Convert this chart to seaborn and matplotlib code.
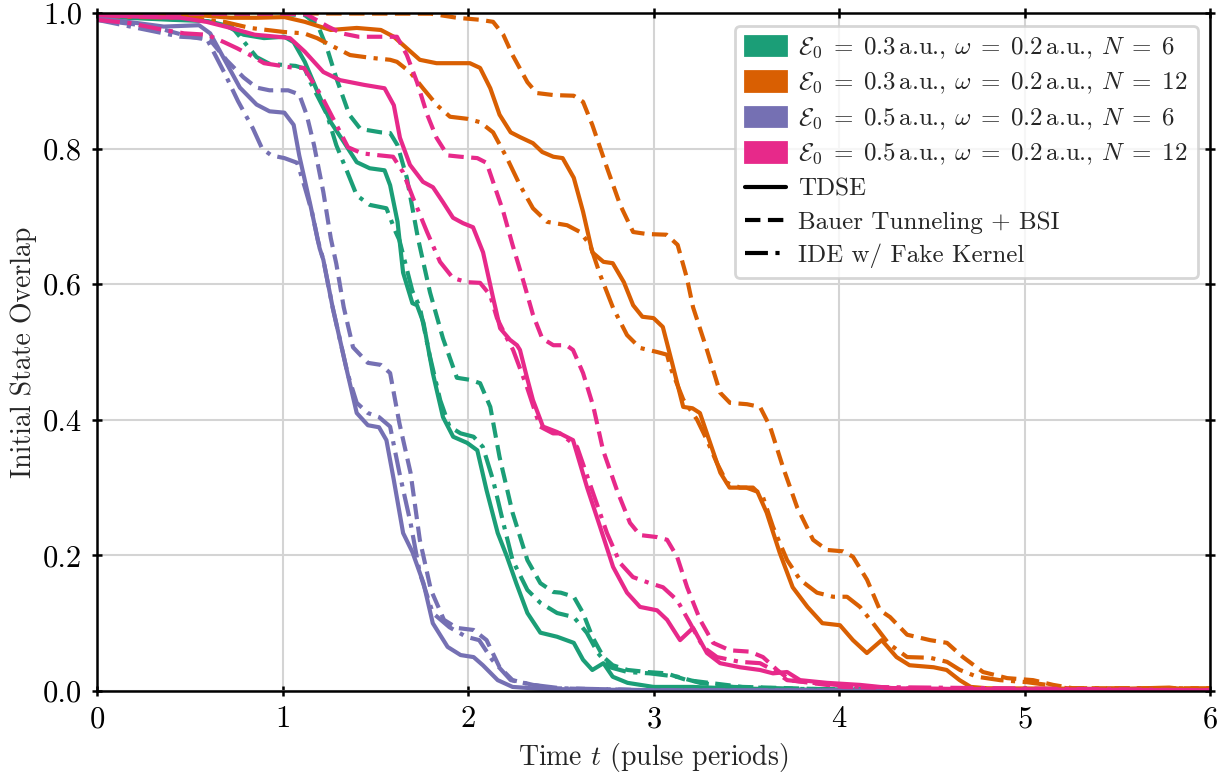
import numpy as np
import pandas as pd
import matplotlib
matplotlib.use("Agg")
import matplotlib.pyplot as plt
import seaborn as sns
from matplotlib.patches import Patch
from matplotlib.lines import Line2D

# ---------------- data ----------------
# E0 = 0.3, N = 6 (green)
g_tdse_t = [0, 0.4, 0.6, 0.69, 0.79, 0.90, 1.01, 1.06, 1.12, 1.19, 1.26, 1.33, 1.40, 1.47, 1.55, 1.58, 1.62,
            1.65, 1.70, 1.725, 1.76, 1.81, 1.865, 1.92, 1.995, 2.05, 2.10, 2.16, 2.21, 2.26, 2.32, 2.39, 2.48,
            2.57, 2.62, 2.67, 2.73, 2.78, 2.86, 3.0, 3.21, 3.4, 3.8, 6.0]
g_tdse_y = [0.995, 0.99, 0.988, 0.982, 0.968, 0.963, 0.965, 0.957, 0.928, 0.883, 0.839, 0.81, 0.78, 0.771, 0.768,
            0.746, 0.692, 0.617, 0.572, 0.569, 0.543, 0.469, 0.404, 0.375, 0.366, 0.355, 0.296, 0.233, 0.198,
            0.159, 0.115, 0.086, 0.08, 0.071, 0.046, 0.031, 0.041, 0.021, 0.012, 0.006, 0.006, 0.004, 0.002, 0.0]
g_bauer_t = [0, 1.0, 1.12, 1.19, 1.24, 1.29, 1.36, 1.42, 1.53, 1.58, 1.62, 1.67, 1.73, 1.795, 1.865, 1.94, 2.01,
             2.065, 2.12, 2.17, 2.24, 2.32, 2.39, 2.46, 2.50, 2.57, 2.62, 2.67, 2.73, 2.78, 2.86, 2.965, 3.07,
             3.18, 3.30, 3.48, 3.75, 4.0, 6.0]
g_bauer_y = [0.998, 0.998, 0.997, 0.982, 0.948, 0.904, 0.85, 0.829, 0.824, 0.823, 0.805, 0.757, 0.668, 0.588,
             0.52, 0.462, 0.459, 0.454, 0.419, 0.345, 0.263, 0.193, 0.159, 0.146, 0.145, 0.139, 0.115, 0.08, 0.05,
             0.038, 0.031, 0.028, 0.026, 0.016, 0.012, 0.006, 0.004, 0.002, 0.0]
g_ide_t = [0, 0.55, 0.71, 0.80, 0.86, 0.93, 1.07, 1.12, 1.15, 1.24, 1.29, 1.35, 1.40, 1.47, 1.56, 1.61, 1.63,
           1.70, 1.74, 1.795, 1.85, 1.90, 1.96, 2.03, 2.08, 2.135, 2.19, 2.24, 2.32, 2.39, 2.48, 2.57, 2.64,
           2.70, 2.765, 2.86, 2.98, 3.13, 3.25, 3.43, 3.8, 6.0]
g_ide_y = [0.995, 0.99, 0.985, 0.955, 0.935, 0.925, 0.922, 0.918, 0.898, 0.85, 0.805, 0.765, 0.731, 0.717,
           0.712, 0.677, 0.665, 0.59, 0.566, 0.493, 0.429, 0.39, 0.38, 0.375, 0.36, 0.311, 0.248, 0.193, 0.149,
           0.13, 0.115, 0.109, 0.086, 0.056, 0.035, 0.028, 0.026, 0.021, 0.012, 0.006, 0.003, 0.0]

# E0 = 0.3, N = 12 (orange)
o_tdse_t = [0, 0.54, 0.72, 0.86, 1.01, 1.12, 1.26, 1.40, 1.53, 1.60, 1.67, 1.74, 1.83, 1.94, 2.01, 2.065, 2.12,
            2.17, 2.23, 2.28, 2.35, 2.40, 2.46, 2.51, 2.57, 2.62, 2.67, 2.73, 2.78, 2.84, 2.89, 2.94, 3.0, 3.05,
            3.10, 3.16, 3.21, 3.25, 3.305, 3.36, 3.41, 3.50, 3.56, 3.61, 3.68, 3.75, 3.83, 3.91, 4.005, 4.075,
            4.15, 4.23, 4.31, 4.38, 4.51, 4.58, 4.65, 4.71, 4.80, 5.5, 5.78, 5.85, 6.0]
o_tdse_y = [0.997, 0.997, 0.993, 0.993, 0.994, 0.987, 0.975, 0.978, 0.975, 0.965, 0.948, 0.931, 0.926, 0.926,
            0.926, 0.919, 0.889, 0.85, 0.824, 0.817, 0.808, 0.795, 0.788, 0.786, 0.757, 0.707, 0.647, 0.633,
            0.631, 0.603, 0.569, 0.552, 0.55, 0.537, 0.484, 0.419, 0.417, 0.41, 0.366, 0.322, 0.30, 0.30, 0.294,
            0.263, 0.204, 0.153, 0.124, 0.10, 0.097, 0.075, 0.056, 0.075, 0.05, 0.038, 0.035, 0.031, 0.016,
            0.006, 0.004, 0.003, 0.005, 0.003, 0.003]
o_bauer_t = [0, 1.8, 1.94, 2.065, 2.135, 2.19, 2.24, 2.32, 2.37, 2.46, 2.57, 2.62, 2.67, 2.75, 2.82, 2.89, 2.965,
             3.07, 3.13, 3.18, 3.213, 3.288, 3.359, 3.412, 3.504, 3.574, 3.628, 3.698, 3.774, 3.86, 3.935, 4.022,
             4.075, 4.151, 4.221, 4.275, 4.367, 4.491, 4.582, 4.668, 4.776, 4.906, 5.046, 5.154, 5.261, 6.0]
o_bauer_y = [1.0, 0.999, 0.993, 0.99, 0.987, 0.968, 0.938, 0.898, 0.882, 0.879, 0.878, 0.869, 0.835, 0.771, 0.717,
             0.677, 0.674, 0.673, 0.658, 0.609, 0.566, 0.503, 0.44, 0.425, 0.423, 0.419, 0.39, 0.33, 0.271, 0.223,
             0.208, 0.206, 0.198, 0.164, 0.119, 0.109, 0.083, 0.075, 0.071, 0.05, 0.028, 0.019, 0.016, 0.009,
             0.004, 0.004]
o_ide_t = [0, 0.5, 0.685, 0.825, 1.008, 1.116, 1.186, 1.256, 1.364, 1.472, 1.58, 1.617, 1.687, 1.757, 1.833,
           1.903, 1.995, 2.065, 2.135, 2.21, 2.28, 2.35, 2.426, 2.534, 2.604, 2.658, 2.712, 2.782, 2.857, 2.927,
           3.019, 3.073, 3.09, 3.16, 3.235, 3.288, 3.342, 3.396, 3.466, 3.536, 3.59, 3.644, 3.72, 3.79, 3.881,
           3.968, 4.043, 4.113, 4.183, 4.267, 4.367, 4.491, 4.582, 4.652, 4.744, 4.868, 5.013, 5.121, 5.229, 6.0]
o_ide_y = [0.995, 0.993, 0.987, 0.978, 0.972, 0.97, 0.963, 0.953, 0.938, 0.934, 0.931, 0.928, 0.913, 0.889,
           0.864, 0.847, 0.844, 0.839, 0.824, 0.786, 0.746, 0.712, 0.692, 0.687, 0.677, 0.658, 0.614, 0.565,
           0.525, 0.506, 0.50, 0.496, 0.478, 0.43, 0.40, 0.37, 0.336, 0.307, 0.30, 0.30, 0.286, 0.242, 0.193,
           0.164, 0.145, 0.139, 0.139, 0.124, 0.10, 0.07, 0.05, 0.049, 0.043, 0.031, 0.021, 0.016, 0.013,
           0.009, 0.004, 0.004]

# E0 = 0.5, N = 6 (purple)
p_tdse_t = [0, 0.36, 0.55, 0.61, 0.69, 0.77, 0.86, 0.93, 1.01, 1.06, 1.09, 1.15, 1.20, 1.22, 1.27, 1.35, 1.40,
            1.46, 1.52, 1.56, 1.60, 1.65, 1.70, 1.76, 1.81, 1.89, 1.96, 2.03, 2.08, 2.16, 2.24, 2.4, 3.0, 6.0]
p_tdse_y = [0.993, 0.98, 0.982, 0.97, 0.93, 0.89, 0.865, 0.855, 0.853, 0.835, 0.79, 0.717, 0.653, 0.636, 0.566,
            0.469, 0.41, 0.392, 0.389, 0.37, 0.311, 0.233, 0.205, 0.159, 0.10, 0.065, 0.053, 0.05, 0.038, 0.016,
            0.006, 0.003, 0.001, 0.0]
p_bauer_t = [0, 0.3, 0.5, 0.61, 0.70, 0.79, 0.86, 0.93, 1.03, 1.09, 1.13, 1.17, 1.22, 1.26, 1.29, 1.33, 1.38,
             1.46, 1.53, 1.58, 1.63, 1.69, 1.74, 1.80, 1.87, 1.94, 2.03, 2.10, 2.17, 2.24, 2.35, 2.46, 3.0, 6.0]
p_bauer_y = [0.99, 0.98, 0.965, 0.96, 0.93, 0.905, 0.89, 0.886, 0.886, 0.88, 0.85, 0.805, 0.736, 0.668, 0.63,
             0.566, 0.507, 0.484, 0.481, 0.469, 0.395, 0.322, 0.223, 0.149, 0.105, 0.093, 0.09, 0.075, 0.035,
             0.016, 0.009, 0.004, 0.001, 0.0]
p_ide_t = [0, 0.36, 0.45, 0.59, 0.69, 0.76, 0.84, 0.89, 0.94, 1.01, 1.08, 1.12, 1.16, 1.19, 1.22, 1.27, 1.35,
           1.40, 1.46, 1.52, 1.58, 1.63, 1.69, 1.74, 1.81, 1.90, 1.99, 2.06, 2.13, 2.23, 2.35, 2.5, 3.0, 6.0]
p_ide_y = [0.99, 0.97, 0.965, 0.963, 0.91, 0.87, 0.83, 0.80, 0.79, 0.786, 0.779, 0.743, 0.705, 0.665, 0.636,
           0.566, 0.469, 0.425, 0.41, 0.404, 0.39, 0.322, 0.248, 0.174, 0.115, 0.094, 0.08, 0.075, 0.046,
           0.016, 0.009, 0.004, 0.001, 0.0]

# E0 = 0.5, N = 12 (pink)
k_tdse_t = [0, 0.18, 0.45, 0.59, 0.72, 0.85, 0.97, 1.04, 1.12, 1.22, 1.31, 1.44, 1.55, 1.60, 1.633, 1.687, 1.757,
            1.811, 1.865, 1.919, 1.973, 2.027, 2.081, 2.135, 2.173, 2.226, 2.264, 2.28, 2.318, 2.35, 2.404, 2.48,
            2.566, 2.642, 2.712, 2.782, 2.857, 2.927, 3.019, 3.073, 3.143, 3.213, 3.288, 3.359, 3.466, 3.574,
            3.644, 3.72, 3.79, 3.935, 4.113, 4.291, 5.0, 6.0]
k_tdse_y = [0.997, 0.995, 0.993, 0.987, 0.978, 0.968, 0.965, 0.963, 0.943, 0.913, 0.901, 0.894, 0.889, 0.864,
            0.816, 0.776, 0.751, 0.743, 0.721, 0.698, 0.69, 0.684, 0.647, 0.58, 0.535, 0.518, 0.51, 0.503, 0.462,
            0.429, 0.39, 0.382, 0.37, 0.30, 0.242, 0.183, 0.145, 0.124, 0.119, 0.105, 0.075, 0.093, 0.056,
            0.041, 0.035, 0.031, 0.026, 0.028, 0.016, 0.012, 0.009, 0.004, 0.002, 0.001]
k_bauer_t = [0, 1.0, 1.13, 1.245, 1.32, 1.41, 1.617, 1.67, 1.725, 1.78, 1.83, 1.89, 1.96, 2.05, 2.10, 2.135,
             2.19, 2.24, 2.30, 2.35, 2.40, 2.46, 2.53, 2.566, 2.62, 2.675, 2.728, 2.803, 2.873, 2.927, 3.019,
             3.073, 3.127, 3.181, 3.251, 3.321, 3.412, 3.52, 3.59, 3.666, 3.736, 3.844, 4.022, 4.5, 6.0]
k_bauer_y = [0.999, 0.999, 0.998, 0.98, 0.97, 0.965, 0.965, 0.938, 0.898, 0.85, 0.816, 0.79, 0.788, 0.786,
             0.779, 0.751, 0.707, 0.658, 0.603, 0.555, 0.52, 0.51, 0.51, 0.503, 0.469, 0.42, 0.355, 0.296,
             0.248, 0.23, 0.227, 0.223, 0.198, 0.153, 0.105, 0.071, 0.06, 0.058, 0.05, 0.031, 0.016, 0.012,
             0.006, 0.003, 0.001]
k_ide_t = [0, 0.18, 0.36, 0.47, 0.593, 0.685, 0.755, 0.825, 0.90, 1.04, 1.116, 1.213, 1.353, 1.429, 1.526,
           1.596, 1.65, 1.704, 1.779, 1.849, 1.919, 1.995, 2.065, 2.119, 2.156, 2.21, 2.243, 2.318, 2.388, 2.458,
           2.496, 2.588, 2.674, 2.749, 2.819, 2.889, 2.981, 3.051, 3.127, 3.197, 3.267, 3.342, 3.466, 3.574,
           3.644, 3.72, 3.86, 4.113, 6.0]
k_ide_y = [0.99, 0.985, 0.975, 0.97, 0.968, 0.957, 0.948, 0.938, 0.926, 0.92, 0.919, 0.876, 0.802, 0.793,
           0.79, 0.788, 0.765, 0.727, 0.677, 0.633, 0.609, 0.603, 0.602, 0.584, 0.55, 0.52, 0.503, 0.448, 0.39,
           0.38, 0.38, 0.36, 0.292, 0.233, 0.189, 0.168, 0.159, 0.153, 0.134, 0.10, 0.065, 0.05, 0.043, 0.041,
           0.031, 0.016, 0.012, 0.006, 0.001]

param_labels = [
    r"$\mathcal{E}_0\;=\;0.3\,$a.u., $\omega\;=\;0.2\,$a.u., $N\;=\;6$",
    r"$\mathcal{E}_0\;=\;0.3\,$a.u., $\omega\;=\;0.2\,$a.u., $N\;=\;12$",
    r"$\mathcal{E}_0\;=\;0.5\,$a.u., $\omega\;=\;0.2\,$a.u., $N\;=\;6$",
    r"$\mathcal{E}_0\;=\;0.5\,$a.u., $\omega\;=\;0.2\,$a.u., $N\;=\;12$",
]
method_labels = ["TDSE", "Bauer Tunneling + BSI", "IDE w/ Fake Kernel"]

curves = {
    (0, 0): (g_tdse_t, g_tdse_y), (0, 1): (g_bauer_t, g_bauer_y), (0, 2): (g_ide_t, g_ide_y),
    (1, 0): (o_tdse_t, o_tdse_y), (1, 1): (o_bauer_t, o_bauer_y), (1, 2): (o_ide_t, o_ide_y),
    (2, 0): (p_tdse_t, p_tdse_y), (2, 1): (p_bauer_t, p_bauer_y), (2, 2): (p_ide_t, p_ide_y),
    (3, 0): (k_tdse_t, k_tdse_y), (3, 1): (k_bauer_t, k_bauer_y), (3, 2): (k_ide_t, k_ide_y),
}

rows = []
for (pi, mi), (ts, ys) in curves.items():
    for t, y in zip(ts, ys):
        rows.append({"t": t, "overlap": y, "params": param_labels[pi], "method": method_labels[mi]})
df = pd.DataFrame(rows)

# ---------------- style ----------------
sns.set_theme(style="whitegrid")
plt.rcParams.update({
    "font.family": "serif",
    "font.serif": ["cmr10"],
    "mathtext.fontset": "cm",
    "axes.formatter.use_mathtext": True,
    "axes.unicode_minus": False,
    "axes.edgecolor": "black",
    "axes.linewidth": 0.9,
    "grid.color": "#d4d4d4",
    "grid.linewidth": 0.75,
    "xtick.direction": "inout",
    "ytick.direction": "inout",
    "xtick.major.size": 3.6,
    "ytick.major.size": 3.6,
    "xtick.major.width": 0.9,
    "ytick.major.width": 0.9,
    "xtick.top": True,
    "ytick.right": True,
    "xtick.bottom": True,
    "ytick.left": True,
    "xtick.color": "black",
    "ytick.color": "black",
    "lines.solid_joinstyle": "round",
    "lines.dash_joinstyle": "round",
})

palette = dict(zip(param_labels, sns.color_palette("Dark2", 4)))
dashes = {method_labels[0]: "", method_labels[1]: (3.7, 1.8), method_labels[2]: (5.5, 1.8, 1, 1.8)}

fig = plt.figure(figsize=(6.125, 3.875), dpi=200)
ax = fig.add_axes([0.0792, 0.1084, 0.9878 - 0.0792, 0.9832 - 0.1084])

sns.lineplot(data=df, x="t", y="overlap", hue="params", style="method",
             palette=palette, dashes=dashes, hue_order=param_labels, style_order=method_labels,
             estimator=None, sort=False, linewidth=1.5, legend=False, ax=ax)

ax.set_xlim(0, 6)
ax.set_ylim(0, 1)
ax.set_xticks([0, 1, 2, 3, 4, 5, 6])
ax.set_yticks([0, 0.2, 0.4, 0.6, 0.8, 1.0])
ax.set_yticklabels(["0.0", "0.2", "0.4", "0.6", "0.8", "1.0"])
ax.tick_params(labelsize=11)
ax.set_xlabel(r"Time $t$ (pulse periods)", fontsize=10, labelpad=3)
ax.set_ylabel("Initial State Overlap", fontsize=10, labelpad=2)
for s in ax.spines.values():
    s.set_color("black")
    s.set_linewidth(0.9)

handles = [Patch(facecolor=palette[p], edgecolor=palette[p]) for p in param_labels]
handles += [Line2D([], [], color="black", linewidth=1.5, dashes=dashes[m]) if dashes[m] != ""
            else Line2D([], [], color="black", linewidth=1.5) for m in method_labels]
labels = param_labels + method_labels
leg = ax.legend(handles, labels, loc="upper right", fontsize=9, frameon=True,
                handlelength=1.65, handleheight=0.8, handletextpad=0.5, labelspacing=0.4,
                borderpad=0.4, borderaxespad=0.5, fancybox=True, framealpha=0.8)
leg.get_frame().set_edgecolor("#cccccc")
leg.get_frame().set_linewidth(1.0)

fig.savefig("out.png", dpi=200)
